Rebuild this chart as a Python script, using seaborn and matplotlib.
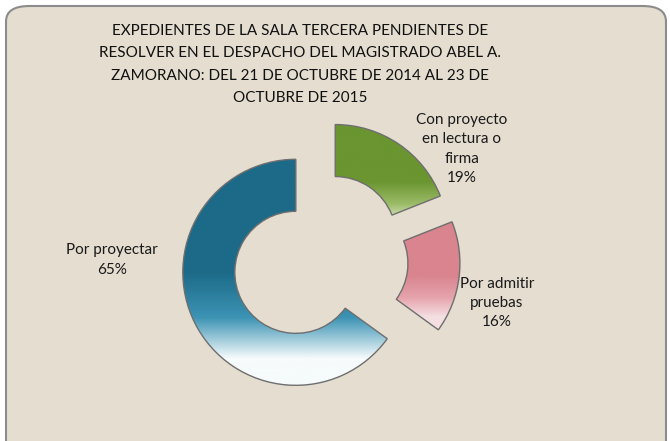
import numpy as np
import matplotlib
matplotlib.use("Agg")
import matplotlib.pyplot as plt
import seaborn as sns
from matplotlib.colors import LinearSegmentedColormap
from matplotlib.patches import FancyBboxPatch

sns.set_theme(style="white")
plt.rcParams["font.family"] = ["Lato", "DejaVu Sans"]

# datos
categorias = ["Por proyectar", "Por admitir\npruebas", "Con proyecto\nen lectura o\nfirma"]
porcentajes = [65, 16, 19]
colores_top = ["#1c6a88", "#d9848f", "#6a9530"]
colores_mid = ["#3c93b4", "#e6a3ab", "#9cbc68"]
colores_bottom = ["#f6fbfc", "#f4dfe2", "#eef3e4"]

titulo = ("EXPEDIENTES DE LA SALA TERCERA PENDIENTES DE\n"
          "RESOLVER EN EL DESPACHO DEL MAGISTRADO ABEL A.\n"
          "ZAMORANO: DEL 21 DE OCTUBRE DE 2014 AL 23 DE\n"
          "OCTUBRE DE 2015")

W, H = 670, 441
fig = plt.figure(figsize=(W / 100, H / 100), dpi=100)
fig.patch.set_facecolor("white")

# fondo con borde redondeado
fondo = FancyBboxPatch((6 / W, -20 / H), (W - 10) / W, (H + 14) / H,
                       boxstyle="round,pad=0,rounding_size=0.035",
                       transform=fig.transFigure, facecolor="#e4ddd0",
                       edgecolor="#8c8c8c", linewidth=1.5, zorder=-5)
fig.patches.append(fondo)

ax = fig.add_axes([0, 0, 1, 1])
ax.set_facecolor("none")
ax.axis("off")

R_PX = 113.0
cx, cy = 320, 260
wedges, _ = ax.pie(porcentajes, startangle=90, counterclock=True,
                   explode=[0.24] * 3, colors=colores_top,
                   wedgeprops=dict(width=0.46, edgecolor="#6e6e6e", linewidth=1.0))

# degradado vertical dentro de cada sector
for w, ctop, cmid, cbot in zip(wedges, colores_top, colores_mid, colores_bottom):
    verts = w.get_path().vertices
    x0, y0 = verts.min(axis=0)
    x1, y1 = verts.max(axis=0)
    cmap = LinearSegmentedColormap.from_list(
        "g", [(0, cbot), (0.12, cbot), (0.3, cmid), (0.5, ctop), (1, ctop)])
    grad = np.linspace(0, 1, 256).reshape(-1, 1)
    im = ax.imshow(grad, extent=[x0, x1, y0, y1], origin="lower",
                   cmap=cmap, aspect="auto", zorder=w.get_zorder() + 0.5)
    im.set_clip_path(w)
    w.set_zorder(w.get_zorder() + 1)
    w.set_facecolor("none")

ax.set_xlim(-cx / R_PX, (W - cx) / R_PX)
ax.set_ylim(-(H - cy) / R_PX, cy / R_PX)
ax.set_aspect("equal")

fig.text(300 / W, 1 - 24 / H, titulo, ha="center", va="top",
         fontsize=11, color="#111111", linespacing=1.75)

etiquetas_pos = [(112, 260), (497, 303), (462, 149)]
for cat, pct, (px, py) in zip(categorias, porcentajes, etiquetas_pos):
    fig.text(px / W, 1 - py / H, f"{cat}\n{pct}%", ha="center", va="center",
             fontsize=11, color="#1a1a1a", linespacing=1.5)

fig.savefig("out.png", dpi=100)
